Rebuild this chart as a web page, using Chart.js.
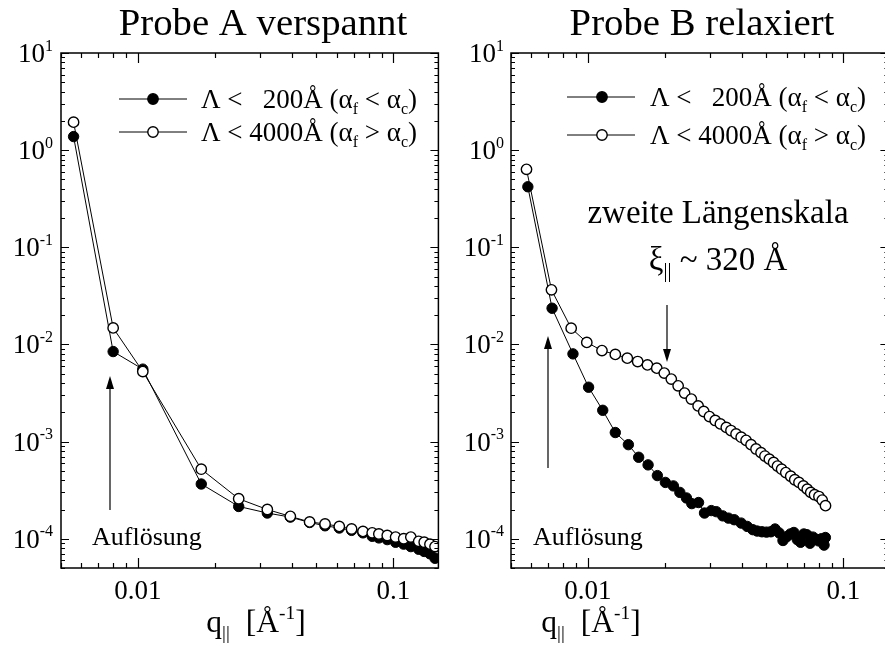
<!DOCTYPE html>
<html>
<head>
<meta charset="utf-8">
<script src="https://cdn.jsdelivr.net/npm/chart.js@4.4.1/dist/chart.umd.min.js"></script>
<style>
html, body { margin: 0; padding: 0; background: #fff; overflow: hidden; width: 885px; height: 647px; }
canvas { position: absolute; top: 0; }
#chartA { left: 0; }
#chartB { left: 445px; }
</style>
</head>
<body>
<canvas id="chartA" width="445" height="647"></canvas>
<canvas id="chartB" width="450" height="647"></canvas>
<script>
// ================= DATA =================
// Probe A (verspannt): q in 1/Å, intensities for both coherence lengths
const qA = [0.0056, 0.0080, 0.01045, 0.0177, 0.0248, 0.0321, 0.0395, 0.047, 0.054, 0.0614, 0.0686, 0.076,
            0.0826, 0.0877, 0.0946, 0.102, 0.1097, 0.117, 0.1256, 0.132, 0.139, 0.1455];
const shortA = [1.38, 0.00845, 0.00557, 3.66e-4, 2.15e-4, 1.84e-4, 1.67e-4, 1.47e-4, 1.36e-4, 1.29e-4, 1.22e-4, 1.15e-4,
                1.06e-4, 1.02e-4, 9.8e-5, 9.2e-5, 8.8e-5, 8.3e-5, 7.8e-5, 7.4e-5, 7.0e-5, 6.3e-5];
const longA = [1.94, 0.0148, 0.00526, 5.2e-4, 2.58e-4, 2.0e-4, 1.70e-4, 1.49e-4, 1.42e-4, 1.34e-4, 1.26e-4, 1.19e-4,
               1.15e-4, 1.12e-4, 1.08e-4, 1.04e-4, 1.0e-4, 1.04e-4, 9.4e-5, 9.2e-5, 8.8e-5, 8.3e-5];

// Probe B (relaxiert)
const qB1 = [0.00582, 0.00724, 0.00874, 0.01006, 0.01143, 0.0128, 0.0144, 0.0158, 0.0172, 0.0187, 0.0201, 0.0216,
             0.0229, 0.0243, 0.0255, 0.0271, 0.0286, 0.0304, 0.0318, 0.0337, 0.0355, 0.0374, 0.0398, 0.042, 0.0442,
             0.046, 0.048, 0.050, 0.052, 0.054, 0.056, 0.058, 0.060, 0.062, 0.064, 0.066, 0.068, 0.070, 0.072,
             0.074, 0.076, 0.078, 0.080, 0.082, 0.084, 0.085];
const shortB = [0.42, 0.0236, 0.0080, 0.00363, 0.0021, 0.00124, 9.3e-4, 6.9e-4, 5.76e-4, 4.47e-4, 3.8e-4, 3.5e-4,
                3.0e-4, 2.63e-4, 2.3e-4, 2.36e-4, 1.84e-4, 1.95e-4, 1.9e-4, 1.72e-4, 1.63e-4, 1.57e-4, 1.45e-4, 1.34e-4, 1.24e-4,
                1.2e-4, 1.18e-4, 1.17e-4, 1.18e-4, 1.26e-4, 1.15e-4, 9.6e-5, 1.05e-4, 1.12e-4, 1.16e-4, 9.8e-5, 9.2e-5,
                1.12e-4, 1.1e-4, 9.0e-5, 1.04e-4, 9.9e-5, 9.5e-5, 1.0e-4, 8.6e-5, 1.03e-4];
const qB2 = [0.00575, 0.0072, 0.0086, 0.0099, 0.01135, 0.0128, 0.01426, 0.01566, 0.0171, 0.0186, 0.0199, 0.0212,
             0.02255, 0.0239, 0.0254, 0.027, 0.0284, 0.0299, 0.0315, 0.033, 0.0348, 0.0363, 0.038, 0.0398, 0.0416,
             0.0435, 0.0455, 0.0476, 0.0493, 0.0513, 0.0533, 0.0552, 0.0573, 0.0595, 0.0622, 0.0645, 0.067, 0.0697,
             0.0722, 0.0745, 0.0771, 0.0802, 0.0826, 0.0851];
const longB = [0.635, 0.0365, 0.0147, 0.0105, 0.00865, 0.0079, 0.00723, 0.00667, 0.00616, 0.0057, 0.00507, 0.0044,
               0.00375, 0.00316, 0.00274, 0.00233, 0.00204, 0.00181, 0.00165, 0.00152, 0.0014, 0.0013, 0.0012, 0.00111, 0.00103,
               9.3e-4, 8.4e-4, 7.7e-4, 7.1e-4, 6.6e-4, 6.1e-4, 5.6e-4, 5.2e-4, 4.8e-4, 4.4e-4, 4.05e-4, 3.8e-4, 3.5e-4,
               3.24e-4, 3.0e-4, 2.84e-4, 2.72e-4, 2.5e-4, 2.19e-4];

const qMin = 0.005, qMax = 0.15;
const iMin = 5e-5, iMax = 10;

// ================= TEXT HELPERS =================
const SERIF = '"Liberation Serif", "Times New Roman", serif';

function fontFor(p, size) {
    return `${p.sub || p.sup ? Math.round(size * 0.6) : size}px ${SERIF}`;
}

// draws a run of text pieces with sub/superscripts, optionally stretched horizontally
function rich(ctx, parts, x, y, size, align = "left", sx = 1) {
    const seg = parts.map(p => typeof p === "string" ? { t: p } : p);
    ctx.save();
    ctx.textAlign = "left";
    ctx.textBaseline = "alphabetic";
    const widths = seg.map(p => {
        if (p.gap) return p.gap;
        ctx.font = fontFor(p, size);
        return ctx.measureText(p.t).width;
    });
    const total = widths.reduce((s, w) => s + w, 0) * sx;
    const x0 = align === "center" ? x - total / 2 : align === "right" ? x - total : x;
    ctx.translate(x0, y);
    ctx.scale(sx, 1);
    let off = 0;
    seg.forEach((p, i) => {
        if (!p.gap) {
            ctx.font = fontFor(p, size);
            const dy = p.sub ? size * 0.22 : p.sup ? -size * 0.42 : 0;
            ctx.fillText(p.t, off, dy);
        }
        off += widths[i];
    });
    ctx.restore();
}

function arrow(ctx, x, y0, y1) {
    const dir = y1 < y0 ? 1 : -1;
    ctx.beginPath();
    ctx.moveTo(x, y0);
    ctx.lineTo(x, y1 + dir * 10);
    ctx.stroke();
    ctx.beginPath();
    ctx.moveTo(x, y1);
    ctx.lineTo(x - 4, y1 + dir * 13);
    ctx.lineTo(x + 4, y1 + dir * 13);
    ctx.closePath();
    ctx.fill();
}

function logTicks(min, max) {
    const out = [];
    for (let e = Math.floor(Math.log10(min)); e <= Math.ceil(Math.log10(max)); e++) {
        for (let m = 1; m <= 9; m++) {
            const v = m * Math.pow(10, e);
            if (v >= min * 0.999 && v <= max * 1.001) out.push({ v, major: m === 1 });
        }
    }
    return out;
}

// ================= FRAME / TICKS / LABELS PLUGIN =================
const frame = {
    id: "frame",
    afterDatasetsDraw(chart, args, o) {
        const { ctx, chartArea: a, scales: { x, y } } = chart;
        ctx.save();
        ctx.strokeStyle = "#000";
        ctx.fillStyle = "#000";
        ctx.lineWidth = 1.5;
        ctx.strokeRect(a.left, a.top, a.right - a.left, a.bottom - a.top);

        ctx.lineWidth = 1.2;
        ctx.beginPath();
        logTicks(qMin, qMax).forEach(t => {
            const px = Math.round(x.getPixelForValue(t.v)) + 0.5;
            const len = t.major ? 10 : 5;
            ctx.moveTo(px, a.bottom); ctx.lineTo(px, a.bottom - len);
            ctx.moveTo(px, a.top); ctx.lineTo(px, a.top + len);
        });
        logTicks(iMin, iMax).forEach(t => {
            const py = Math.round(y.getPixelForValue(t.v)) + 0.5;
            const len = t.major ? 8 : 4;
            ctx.moveTo(a.left, py); ctx.lineTo(a.left + len, py);
            ctx.moveTo(a.right, py); ctx.lineTo(a.right - len, py);
        });
        ctx.stroke();

        // tick labels
        [0.01, 0.1].forEach(v => {
            rich(ctx, [String(v)], x.getPixelForValue(v), a.bottom + 31, 27, "center");
        });
        for (let e = -4; e <= 1; e++) {
            const py = y.getPixelForValue(Math.pow(10, e));
            rich(ctx, ["10", { t: String(e), sup: true }], a.left - o.yLabelGap, py + 9, 27, "right");
        }

        // title and axis title
        rich(ctx, [o.title], o.titleX, 35, 38, "center", 1.02);
        rich(ctx, ["q", { t: "||", sub: true }, "  [Å", { t: "-1", sup: true }, "]"], o.axisX, 632, 31, "center", 1.02);

        // legend
        const lg = o.legend;
        ctx.lineWidth = 1;
        lg.rows.forEach((ry, i) => {
            ctx.beginPath();
            ctx.moveTo(lg.x0, ry); ctx.lineTo(lg.x1, ry);
            ctx.stroke();
            ctx.beginPath();
            ctx.arc(lg.mx, ry, 5.2, 0, Math.PI * 2);
            ctx.fillStyle = i === 0 ? "#000" : "#fff";
            ctx.fill();
            ctx.lineWidth = 1.4;
            ctx.stroke();
            ctx.lineWidth = 1;
            ctx.fillStyle = "#000";
        });
        rich(ctx, ["Λ < ", { gap: 13.5 }, "200Å (α", { t: "f", sub: true }, " < α", { t: "c", sub: true }, ")"], lg.tx, lg.rows[0] + 9, 27);
        rich(ctx, ["Λ < 4000Å (α", { t: "f", sub: true }, " > α", { t: "c", sub: true }, ")"], lg.tx, lg.rows[1] + 9, 27);

        // annotations
        ctx.lineWidth = 1.2;
        o.arrows.forEach(ar => arrow(ctx, ar[0], ar[1], ar[2]));
        rich(ctx, ["Auflösung"], o.aufX, 545, 26);
        if (o.second) {
            rich(ctx, ["zweite Längenskala"], o.second.x, 223, 33, "center");
            rich(ctx, ["ξ", { t: "||", sub: true }, " ~ 320 Å"], o.second.x, 270, 33, "center");
        }
        ctx.restore();
    }
};

// ================= CHARTS =================
function series(qs, vals, filled) {
    return {
        data: qs.map((q, i) => ({ x: q, y: vals[i] })),
        showLine: true,
        borderColor: "#000",
        borderWidth: 1,
        pointRadius: 5.2,
        pointBorderColor: "#000",
        pointBackgroundColor: filled ? "#000" : "#fff",
        pointBorderWidth: filled ? 1 : 1.4,
        order: filled ? 2 : 1
    };
}

function makeChart(id, datasets, pad, frameOpts) {
    return new Chart(document.getElementById(id), {
        type: "scatter",
        data: { datasets },
        options: {
            responsive: false,
            animation: false,
            events: [],
            layout: { padding: pad },
            plugins: { legend: { display: false }, tooltip: { enabled: false }, frame: frameOpts },
            scales: {
                x: { type: "logarithmic", min: qMin, max: qMax, display: false },
                y: { type: "logarithmic", min: iMin, max: iMax, display: false }
            }
        },
        plugins: [frame]
    });
}

makeChart("chartA",
    [series(qA, shortA, true), series(qA, longA, false)],
    { left: 61, top: 53, right: 3, bottom: 79 },
    {
        title: "Probe A verspannt", titleX: 263, axisX: 256, yLabelGap: 8,
        legend: { x0: 119, x1: 187, mx: 153, tx: 201, rows: [99, 132] },
        arrows: [[110, 510, 376]], aufX: 92
    });

makeChart("chartB",
    [series(qB1, shortB, true), series(qB2, longB, false)],
    { left: 66, top: 53, right: 3, bottom: 79 },
    {
        title: "Probe B relaxiert", titleX: 257, axisX: 146, yLabelGap: 7,
        legend: { x0: 122, x1: 190, mx: 157, tx: 205, rows: [97, 135] },
        arrows: [[103, 468, 336], [222, 305, 362]], aufX: 88,
        second: { x: 273 }
    });
</script>
</body>
</html>
